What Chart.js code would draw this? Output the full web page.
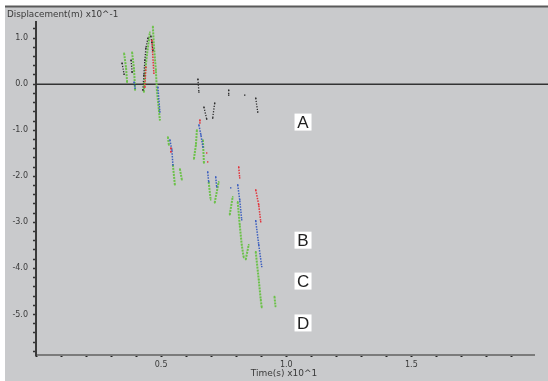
<!DOCTYPE html>
<html><head><meta charset="utf-8">
<script src="https://cdn.jsdelivr.net/npm/chart.js@4"></script>
<style>html,body{margin:0;padding:0;background:#fff;}canvas{display:block}</style>
</head><body><canvas id="c" width="548" height="381"></canvas>
<script>
const yAxisTitle = 'Displacement(m) x10^-1';
const xAxisTitle = 'Time(s) x10^1';
const xLabelTicks = [0.5, 1.0, 1.5];
const yLabelTicks = [1, 0, -1, -2, -3, -4, -5];
const markerLabels = ['A', 'B', 'C', 'D'];

// Series (null = gap between streaks)
const blackX = [0.344,0.352,null,0.380,0.384,null,0.427,0.431,0.435,0.439,0.447,null,0.459,0.463,0.467,null,0.647,0.651,null,0.770,0.770,null,0.834,null,0.878,0.886,null,0.671,0.682,null,0.714,0.706];
const blackY = [0.455,0.216,null,0.519,0.260,null,-0.130,0.195,0.519,0.779,0.996,null,1.039,0.909,0.736,null,0.108,-0.173,null,-0.130,-0.238,null,-0.238,null,-0.303,-0.606,null,-0.498,-0.758,null,-0.411,-0.736];

const redX = [0.435,0.439,null,0.463,0.471,null,0.539,0.539,null,0.655,0.655,null,0.682,null,0.686,null,0.810,0.814,null,0.878,0.890,0.898];
const redY = [-0.065,0.368,null,0.952,0.238,null,-1.385,-1.472,null,-0.779,-0.844,null,-1.494,null,-1.688,null,-1.797,-2.035,null,-2.294,-2.619,-2.987];

const blueX = [0.392,0.396,null,0.487,0.495,null,0.535,0.543,0.547,null,0.651,0.659,0.667,null,0.686,0.690,null,0.718,0.722,null,0.778,null,0.806,0.814,0.822,null,0.878,0.890,0.902];
const blueY = [0.043,-0.087,null,-0.065,-0.606,null,-1.212,-1.429,-1.753,null,-0.887,-1.104,-1.364,null,-1.905,-2.121,null,-2.013,-2.229,null,-2.251,null,-2.186,-2.511,-2.944,null,-2.965,-3.485,-3.961];

const greenX = [0.352,0.360,0.364,null,0.384,0.392,0.396,null,0.431,0.435,0.443,0.451,0.455,null,0.467,0.471,0.479,0.483,0.491,0.495,null,0.527,0.531,null,0.547,0.555,null,0.575,0.583,null,0.631,0.639,0.643,null,0.667,0.671,null,0.690,0.698,null,0.714,0.730,null,0.774,0.786,null,0.806,0.814,0.822,0.830,null,0.838,0.850,null,0.878,0.890,0.898,0.902,null,0.953,0.957];
const greenY = [0.671,0.346,0.043,null,0.693,0.303,-0.130,null,-0.173,0.195,0.628,0.952,1.126,null,1.255,0.844,0.303,-0.130,-0.563,-0.779,null,-1.147,-1.320,null,-1.753,-2.186,null,-1.840,-2.078,null,-1.623,-1.320,-0.996,null,-1.212,-1.710,null,-2.121,-2.511,null,-2.576,-2.121,null,-2.835,-2.446,null,-2.554,-3.052,-3.485,-3.766,null,-3.810,-3.485,null,-3.636,-4.242,-4.675,-4.848,null,-4.610,-4.827];

const markerPos = { x: 1.067, y: [-0.823, -3.387, -4.275, -5.184] };

function pts(xs, ys) { return xs.map((x, i) => ({ x: x, y: ys[i] })); }

function ds(label, xs, ys, color, width, dash, order) {
  return {
    label: label, data: pts(xs, ys), showLine: true, spanGaps: false,
    borderColor: color, backgroundColor: color, borderWidth: width, borderDash: dash,
    pointRadius: 1, pointStyle: 'rect', pointBorderWidth: 0, order: order
  };
}

const FONT = 'DejaVu Sans';
const TXT = '#3a3a3a';

const deco = {
  id: 'deco',
  beforeDraw(chart) {
    const c = chart.ctx;
    c.save();
    c.fillStyle = '#fff'; c.fillRect(0, 0, chart.width, chart.height);
    c.fillStyle = '#c9cacc'; c.fillRect(5, 7, chart.width - 5, chart.height - 7);
    c.strokeStyle = '#5a5a5a'; c.lineWidth = 2;
    c.beginPath(); c.moveTo(5, 6.5); c.lineTo(chart.width, 6.5); c.stroke();
    c.restore();
  },
  beforeDatasetsDraw(chart) {
    const c = chart.ctx, y = chart.scales.y.getPixelForValue(0);
    c.save();
    c.strokeStyle = '#333'; c.lineWidth = 1.5;
    c.beginPath(); c.moveTo(chart.chartArea.left, y); c.lineTo(chart.width, y); c.stroke();
    c.restore();
  },
  afterDraw(chart) {
    const c = chart.ctx, xs = chart.scales.x, ys = chart.scales.y;
    c.save();
    c.fillStyle = TXT; c.font = '8.8px "' + FONT + '"';
    c.textBaseline = 'middle'; c.textAlign = 'left';
    c.fillText(yAxisTitle, 7, 15);
    c.textAlign = 'center';
    c.font = '9px "' + FONT + '"';
    c.fillText(xAxisTitle, 284, 374);
    const px = xs.getPixelForValue(markerPos.x);
    markerLabels.forEach((t, i) => {
      const py = ys.getPixelForValue(markerPos.y[i]);
      c.fillStyle = '#fff'; c.fillRect(px - 8.5, py - 8.5, 17, 17);
      c.fillStyle = '#222'; c.font = '17px "Liberation Sans"';
      c.textAlign = 'center'; c.textBaseline = 'middle';
      c.fillText(t, px, py + 1);
    });
    c.restore();
  }
};

Chart.defaults.font.family = FONT;
Chart.defaults.font.size = 8;
Chart.defaults.color = TXT;

new Chart(document.getElementById('c'), {
  type: 'scatter',
  data: {
    datasets: [
      ds('red', redX, redY, '#e2333b', 1.5, [1.5, 1.2], 0),
      ds('blue', blueX, blueY, '#3c5fbf', 1.5, [1.5, 1.2], 1),
      ds('black', blackX, blackY, '#2a2a2a', 1.3, [1.2, 1.5], 2),
      ds('green', greenX, greenY, '#6cc14a', 2, [2, 1], 3)
    ]
  },
  options: {
    responsive: false, animation: false, devicePixelRatio: 1,
    layout: { padding: { left: 0, top: 22, right: 14, bottom: 0 } },
    plugins: { legend: { display: false }, tooltip: { enabled: false }, title: { display: false } },
    scales: {
      x: {
        type: 'linear', min: 0, max: 1.99,
        afterFit(s) { s.height = 26; },
        border: { display: true, color: '#7b7b7b', width: 2 },
        grid: { display: true, drawOnChartArea: false, drawTicks: true, tickLength: 2, tickColor: '#222', tickWidth: 2 },
        ticks: {
          stepSize: 0.1, includeBounds: false, maxRotation: 0, autoSkip: false, padding: 3,
          callback(v) { return xLabelTicks.some(t => Math.abs(t - v) < 1e-6) ? v.toFixed(1) : ''; }
        }
      },
      y: {
        type: 'linear', min: -5.88, max: 1.35,
        afterFit(s) { s.width = 36; },
        border: { display: true, color: '#3a3a3a', width: 2 },
        grid: { display: true, drawOnChartArea: false, drawTicks: true, tickLength: 3, tickColor: '#333', tickWidth: 1.5 },
        ticks: {
          stepSize: 0.2, includeBounds: false, autoSkip: false, padding: 5,
          callback(v) { return yLabelTicks.some(t => Math.abs(t - v) < 1e-6) ? v.toFixed(1) : ''; }
        }
      }
    }
  },
  plugins: [deco]
});
</script>
</body></html>
